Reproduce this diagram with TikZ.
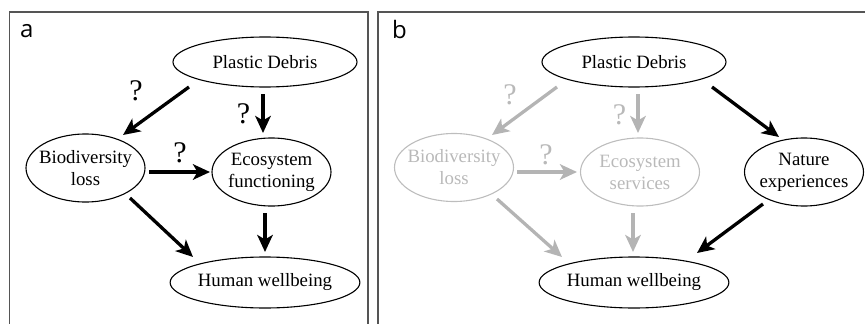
\documentclass[tikz,border=0pt]{standalone}
\usepackage{fontspec}
\setmainfont{Liberation Serif}
\newfontfamily\panelfont{Open Sans}
\usetikzlibrary{shapes.geometric,arrows.meta}
\definecolor{framecol}{HTML}{555555}
\definecolor{arrgray}{HTML}{B4B4B4}
\definecolor{ellgray}{HTML}{BDBDBD}
\definecolor{txtgray}{HTML}{B9B9B9}
\begin{document}
\begin{tikzpicture}[x=1pt,y=-1pt,
  every node/.style={font=\fontsize{18.8}{22}\selectfont},
  ell/.style={ellipse, draw, line width=1.1pt, inner sep=0pt},
  wideell/.style={ell, minimum width=184pt, minimum height=50pt},
  tallell/.style={ell, minimum width=119pt, minimum height=68pt},
  txt/.style={align=center, inner sep=0pt},
  arr/.style={line width=3.3pt, -{Stealth[length=17pt,width=15.5pt,inset=4.5pt]}},
  qm/.style={font=\fontsize{30}{30}\selectfont, inner sep=0pt},
  panel/.style={font=\panelfont\fontsize{24}{24}\selectfont, inner sep=0pt, anchor=base west},
  faded/.style={draw=ellgray, text=txtgray},
  fadedarr/.style={arr, draw=arrgray}
]
\useasboundingbox (0,0) rectangle (865,324);
\clip (0,0) rectangle (865,324);
% frames
\draw[framecol, line width=1.5pt] (9.5,340) -- (9.5,12) -- (368,12) -- (368,340);
\draw[framecol, line width=1.5pt] (378,340) -- (378,12) -- (880,12);
\node[panel] (la) at (20,37) {a};
\node[panel] (lb) at (392,38) {b};

% ---------- panel a ----------
\node[wideell] (pa) at (265,62) {Plastic Debris};
\node[tallell] (ba) at (85.5,168) {};
\node[txt] (bat) at (ba) {Biodiversity\\loss};
\node[tallell] (ea) at (271.5,172) {};
\node[txt] (eat) at (ea) {Ecosystem\\functioning};
\node[wideell, minimum height=51pt] (ha) at (265,282.5) {Human wellbeing};

\draw[arr] ([shift={(-76,25)}]pa.center) -- ([shift={(37.5,-33)}]ba.center);
\draw[arr] ([shift={(-2,32)}]pa.center) -- ([shift={(-8.5,-39)}]ea.center);
\draw[arr] ([shift={(63.5,4)}]ba.center) -- ([shift={(-61.5,0)}]ea.center);
\draw[arr] ([shift={(44.5,30)}]ba.center) -- ([shift={(-72,-25.5)}]ha.center);
\draw[arr] ([shift={(-6.5,41)}]ea.center) -- ([shift={(0,-30.5)}]ha.center);

\node[qm] (qa1) at (136,91) {?};
\node[qm] (qa2) at (243.5,114) {?};
\node[qm] (qa3) at (180,153) {?};

% ---------- panel b ----------
\node[wideell] (pb) at (634,62) {Plastic Debris};
\node[tallell, faded] (bb) at (454,167.5) {};
\node[txt, text=txtgray] (bbt) at (bb) {Biodiversity\\loss};
\node[tallell, faded] (eb) at (640,172) {};
\node[txt, text=txtgray] (ebt) at (eb) {Ecosystem\\services};
\node[tallell] (nb) at (804,172) {};
\node[txt] (nbt) at (nb) {Nature\\experiences};
\node[wideell, minimum height=51pt] (hb) at (634,282.5) {Human wellbeing};

\draw[fadedarr] ([shift={(-77,25)}]pb.center) -- ([shift={(38,-32.5)}]bb.center);
\draw[fadedarr] ([shift={(4,32)}]pb.center) -- ([shift={(-2,-39)}]eb.center);
\draw[fadedarr] ([shift={(63,4.5)}]bb.center) -- ([shift={(-63,0)}]eb.center);
\draw[fadedarr] ([shift={(43,31.5)}]bb.center) -- ([shift={(-72,-25.5)}]hb.center);
\draw[fadedarr] ([shift={(-7,41)}]eb.center) -- ([shift={(-1,-30.5)}]hb.center);
\draw[arr] ([shift={(78,25)}]pb.center) -- ([shift={(-25,-35)}]nb.center);
\draw[arr] ([shift={(-41,32)}]nb.center) -- ([shift={(63,-29.5)}]hb.center);

\node[qm, text=txtgray] (qb1) at (510,95) {?};
\node[qm, text=txtgray] (qb2) at (619.5,115) {?};
\node[qm, text=txtgray] (qb3) at (546,155) {?};
\end{tikzpicture}
\end{document}
